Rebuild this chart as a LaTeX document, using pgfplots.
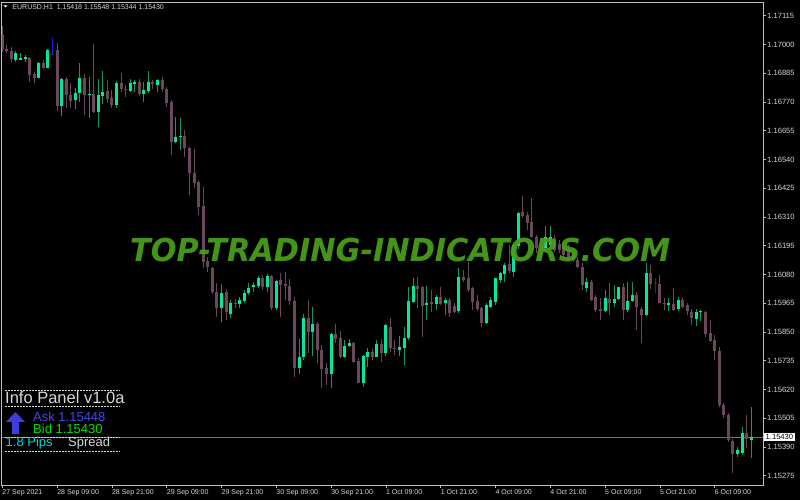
\documentclass[border=0pt]{standalone}
\usepackage{fontspec}
\setmainfont{Liberation Sans}
\newfontfamily\wmfont{DejaVu Sans}
\usepackage{graphicx}
\usepackage{pgfplots}
\usepackage{pgfplotstable}
\pgfplotsset{compat=1.18}

\definecolor{bull}{RGB}{0,232,160}
\definecolor{bullwick}{RGB}{22,150,98}
\definecolor{bear}{RGB}{106,72,92}
\definecolor{dojic}{RGB}{30,30,210}
\definecolor{framec}{RGB}{190,190,190}
\definecolor{labc}{RGB}{215,215,215}
\definecolor{bidline}{RGB}{135,100,118}
\definecolor{wmgreen}{RGB}{74,160,26}
\definecolor{askblue}{RGB}{70,70,235}
\definecolor{arrowblue}{RGB}{60,60,225}
\definecolor{bidgreen}{RGB}{0,225,0}
\definecolor{pipcyan}{RGB}{0,215,215}

% i = bar number, o h l c = open high low close
\pgfplotstableread{
i o h l c
3 1.16938 1.16975 1.16930 1.16965
4 1.16938 1.16966 1.16936 1.16946
5 1.16941 1.16958 1.16931 1.16949
8 1.16867 1.16930 1.16865 1.16927
10 1.16907 1.16981 1.16905 1.16978
13 1.16754 1.16867 1.16714 1.16862
16 1.16778 1.16826 1.16742 1.16807
17 1.16807 1.16925 1.16771 1.16867
19 1.16797 1.16871 1.16707 1.16802
21 1.16731 1.16861 1.16671 1.16798
22 1.16795 1.16894 1.16762 1.16810
25 1.16758 1.16855 1.16745 1.16845
28 1.16814 1.16861 1.16811 1.16845
29 1.16842 1.16858 1.16811 1.16851
31 1.16801 1.16851 1.16771 1.16818
32 1.16814 1.16894 1.16805 1.16849
34 1.16836 1.16861 1.16811 1.16858
38 1.16611 1.16710 1.16605 1.16631
39 1.16628 1.16706 1.16576 1.16634
48 1.15945 1.16042 1.15891 1.16005
50 1.15922 1.15978 1.15905 1.15967
52 1.15962 1.15989 1.15945 1.15978
53 1.15975 1.16018 1.15967 1.16007
54 1.16007 1.16045 1.15998 1.16027
55 1.16029 1.16051 1.16011 1.16037
56 1.16034 1.16074 1.16025 1.16065
58 1.16031 1.16082 1.16011 1.16074
60 1.15945 1.16058 1.15938 1.16055
65 1.15705 1.15821 1.15682 1.15751
66 1.15749 1.15921 1.15738 1.15905
68 1.15851 1.15949 1.15754 1.15882
72 1.15682 1.15845 1.15625 1.15842
75 1.15749 1.15817 1.15745 1.15794
76 1.15794 1.15821 1.15791 1.15807
79 1.15647 1.15758 1.15629 1.15754
80 1.15751 1.15785 1.15711 1.15771
82 1.15751 1.15818 1.15749 1.15801
84 1.15767 1.15882 1.15754 1.15878
87 1.15778 1.15834 1.15754 1.15791
88 1.15785 1.15871 1.15718 1.15825
89 1.15825 1.16029 1.15818 1.15975
90 1.15969 1.16065 1.15965 1.16034
93 1.15958 1.16034 1.15898 1.15967
95 1.15962 1.15998 1.15938 1.15991
97 1.15965 1.15985 1.15918 1.15978
100 1.15934 1.16105 1.15925 1.16069
106 1.15885 1.15965 1.15882 1.15958
107 1.15951 1.15991 1.15945 1.15978
108 1.15971 1.16067 1.15958 1.16065
109 1.16058 1.16091 1.16047 1.16085
110 1.16082 1.16125 1.16051 1.16118
112 1.16091 1.16205 1.16071 1.16198
113 1.16194 1.16331 1.16181 1.16327
119 1.16185 1.16274 1.16178 1.16231
120 1.16198 1.16274 1.16191 1.16231
128 1.16025 1.16065 1.16011 1.16051
132 1.15935 1.16018 1.15931 1.15985
134 1.15967 1.16038 1.15951 1.15982
135 1.15982 1.16031 1.15978 1.16029
137 1.15938 1.16051 1.15931 1.15975
138 1.15975 1.16051 1.15971 1.15998
141 1.15918 1.16125 1.15914 1.16085
146 1.15959 1.15985 1.15934 1.15966
148 1.15941 1.15991 1.15935 1.15978
152 1.15901 1.15941 1.15874 1.15929
153 1.15928 1.15938 1.15895 1.15933
161 1.15362 1.15391 1.15351 1.15378
162 1.15367 1.15471 1.15358 1.15447
164 1.15418 1.15548 1.15344 1.15430
}\uptab

\pgfplotstableread{
i o h l c
0 1.17038 1.17074 1.16970 1.16982
1 1.16983 1.16998 1.16967 1.16975
2 1.16975 1.16991 1.16931 1.16942
6 1.16945 1.16949 1.16851 1.16878
7 1.16882 1.16891 1.16845 1.16865
9 1.16927 1.16938 1.16901 1.16907
12 1.16978 1.17005 1.16734 1.16754
14 1.16861 1.16871 1.16745 1.16798
15 1.16798 1.16846 1.16745 1.16774
18 1.16865 1.16882 1.16718 1.16798
20 1.16802 1.17002 1.16725 1.16731
23 1.16814 1.16858 1.16765 1.16781
24 1.16785 1.16818 1.16745 1.16758
26 1.16845 1.16885 1.16811 1.16821
27 1.16822 1.16838 1.16791 1.16818
30 1.16851 1.16861 1.16794 1.16801
33 1.16848 1.16858 1.16821 1.16840
35 1.16858 1.16871 1.16811 1.16820
36 1.16821 1.16829 1.16751 1.16767
37 1.16770 1.16778 1.16558 1.16611
40 1.16634 1.16656 1.16550 1.16585
41 1.16585 1.16590 1.16398 1.16485
42 1.16485 1.16581 1.16425 1.16447
43 1.16451 1.16458 1.16318 1.16351
44 1.16355 1.16431 1.16105 1.16131
45 1.16134 1.16151 1.16091 1.16111
46 1.16105 1.16110 1.16002 1.16009
47 1.16011 1.16045 1.15911 1.15945
49 1.16011 1.16021 1.15898 1.15931
51 1.15967 1.15981 1.15945 1.15962
57 1.16065 1.16078 1.16018 1.16031
59 1.16074 1.16078 1.15938 1.15945
61 1.16058 1.16086 1.15911 1.16038
62 1.16041 1.16091 1.15978 1.16035
63 1.16035 1.16061 1.15958 1.15974
64 1.15975 1.15991 1.15671 1.15705
67 1.15905 1.15978 1.15765 1.15851
69 1.15882 1.15891 1.15725 1.15778
70 1.15778 1.15798 1.15625 1.15701
71 1.15705 1.15725 1.15638 1.15682
73 1.15842 1.15882 1.15805 1.15821
74 1.15825 1.15855 1.15745 1.15749
77 1.15807 1.15811 1.15725 1.15731
78 1.15735 1.15745 1.15645 1.15647
81 1.15771 1.15781 1.15738 1.15751
83 1.15801 1.15821 1.15731 1.15767
85 1.15871 1.15905 1.15771 1.15785
86 1.15785 1.15818 1.15758 1.15781
91 1.16034 1.16069 1.15945 1.16022
92 1.16029 1.16034 1.15831 1.15954
94 1.15970 1.16018 1.15931 1.15962
96 1.15991 1.16031 1.15958 1.15962
98 1.15978 1.15985 1.15909 1.15925
99 1.15954 1.15967 1.15927 1.15931
101 1.16069 1.16098 1.16051 1.16058
102 1.16065 1.16131 1.16011 1.16018
103 1.16025 1.16031 1.15938 1.15971
104 1.15975 1.15998 1.15935 1.15941
105 1.15945 1.15951 1.15871 1.15885
111 1.16122 1.16198 1.16085 1.16095
114 1.16329 1.16394 1.16305 1.16314
115 1.16318 1.16331 1.16258 1.16285
116 1.16289 1.16385 1.16225 1.16229
117 1.16231 1.16238 1.16165 1.16185
118 1.16198 1.16218 1.16158 1.16178
121 1.16226 1.16238 1.16171 1.16178
122 1.16202 1.16218 1.16166 1.16178
123 1.16191 1.16205 1.16151 1.16158
124 1.16178 1.16198 1.16138 1.16146
125 1.16166 1.16178 1.16130 1.16138
126 1.16138 1.16151 1.16105 1.16109
127 1.16110 1.16125 1.16018 1.16038
129 1.16051 1.16058 1.15975 1.15978
130 1.15991 1.15998 1.15931 1.15938
131 1.15942 1.15985 1.15898 1.15935
133 1.15982 1.16045 1.15918 1.15967
136 1.16029 1.16045 1.15898 1.15938
139 1.15998 1.16011 1.15858 1.15951
140 1.15942 1.15951 1.15805 1.15918
142 1.16085 1.16118 1.16021 1.16042
144 1.16042 1.16078 1.15965 1.15967
145 1.15967 1.15985 1.15938 1.15962
147 1.15962 1.16025 1.15935 1.15938
149 1.15978 1.15985 1.15945 1.15949
150 1.15958 1.15965 1.15918 1.15934
151 1.15931 1.15941 1.15878 1.15905
154 1.15931 1.15935 1.15831 1.15842
155 1.15845 1.15898 1.15811 1.15815
156 1.15818 1.15838 1.15738 1.15775
157 1.15775 1.15791 1.15551 1.15558
158 1.15558 1.15567 1.15505 1.15518
159 1.15518 1.15525 1.15411 1.15418
160 1.15415 1.15421 1.15287 1.15362
163 1.15447 1.15518 1.15385 1.15421
}\dntab

\pgfplotstableread{
i o h l c
11 1.16962 1.17025 1.16958 1.16962
143 1.16045 1.16065 1.16005 1.16045
}\djtab

\pgfplotsset{
  candle/.style n args={2}{draw=none, mark=none, forget plot,
    error bars/.cd, y dir=minus, y explicit, error mark=none,
    error bar style={draw=#1, solid, line width=#2}},
}

\begin{document}
\begin{tikzpicture}[x=1pt,y=1pt]
\useasboundingbox (0,0) rectangle (800,500);
\fill[black] (0,0) rectangle (800,500);

\begin{axis}[
  at={(1.5pt,15pt)}, anchor=south west,
  scale only axis, width=761.5pt, height=483pt,
  xmin=-0.175, xmax=166.6, ymin=1.15238, ymax=1.17170,
  axis line style={draw=framec, line width=0.8pt},
  ytick={1.15275,1.15390,1.15505,1.15620,1.15735,1.15850,1.15965,1.16080,1.16195,1.16310,1.16425,1.16540,1.16655,1.16770,1.16885,1.17000,1.17115},
  yticklabels={1.15275,1.15390,1.15505,1.15620,1.15735,1.15850,1.15965,1.16080,1.16195,1.16310,1.16425,1.16540,1.16655,1.16770,1.16885,1.17000,1.17115},
  xtick={0,12,...,156},
  xticklabels={27 Sep 2021,28 Sep 09:00,28 Sep 21:00,29 Sep 09:00,29 Sep 21:00,30 Sep 09:00,30 Sep 21:00,1 Oct 09:00,1 Oct 21:00,4 Oct 09:00,4 Oct 21:00,5 Oct 09:00,5 Oct 21:00,6 Oct 09:00},
  ytick pos=right, yticklabel pos=right, xtick pos=bottom,
  tick align=outside, major tick length=3pt,
  tick style={draw=framec, line width=0.6pt},
  /pgf/number format/assume math mode=true,
  yticklabel style={font=\fontsize{7.6}{9}\selectfont, text=labc, anchor=west, inner xsep=1pt},
  xticklabel style={font=\fontsize{7}{8}\selectfont, text=labc, anchor=north west, inner xsep=0pt, inner ysep=1.5pt},
]
% bid line
\addplot[bidline, line width=0.8pt, forget plot] coordinates {(-1,1.15430) (170,1.15430)};
% wicks
\addplot[candle={bear}{1pt}] table[x=i, y=h, y error minus expr=\thisrow{h}-\thisrow{l}] {\dntab};
\addplot[candle={bullwick}{1pt}] table[x=i, y=h, y error minus expr=\thisrow{h}-\thisrow{l}] {\uptab};
\addplot[candle={dojic}{1pt}] table[x=i, y=h, y error minus expr=\thisrow{h}-\thisrow{l}] {\djtab};
% bodies
\addplot[candle={bear}{3pt}] table[x=i, y=o, y error minus expr=\thisrow{o}-\thisrow{c}] {\dntab};
\addplot[candle={bull}{3pt}] table[x=i, y=c, y error minus expr=\thisrow{c}-\thisrow{o}] {\uptab};
\addplot[only marks, mark=-, mark size=1.5pt, dojic, forget plot] table[x=i, y=c] {\djtab};
\coordinate (bidpt) at (axis cs:166.6,1.15430);
\end{axis}

% price box at the bid
\node[fill=white, text=black, anchor=west, inner xsep=2pt, inner ysep=1.2pt,
  font=\fontsize{7.6}{9}\selectfont] at ([xshift=0.5pt]bidpt) {1.15430};

% header
\fill[white] (3.3,494.7) -- (7.7,494.7) -- (5.5,492.5) -- cycle;
\node[anchor=base west, inner sep=0, text=labc, font=\fontsize{7}{8}\selectfont]
  at (12.3,490) {EURUSD,H1\ \ 1.15418 1.15548 1.15344 1.15430};

% watermark
\node[anchor=base west, inner sep=0, text=wmgreen, opacity=0.93] at (130,238.3)
  {\resizebox{540pt}{23.4pt}{\wmfont\bfseries\itshape TOP-TRADING-INDICATORS.COM}};

% info panel
\begin{scope}[draw=labc, line width=0.7pt, dash pattern=on 2pt off 1pt]
  \draw (5,110) -- (120,110);
  \draw (5,94) -- (120,94);
  \draw (5,62.7) -- (120,62.7);
  \draw (5,49) -- (120,49);
\end{scope}
\node[anchor=base west, inner sep=0, text=labc, font=\fontsize{16.5}{18}\selectfont]
  at (5,96) {Info Panel v1.0a};
\fill[arrowblue] (15.5,88) -- (25,78) -- (19,78) -- (19,66) -- (12,66)
  -- (12,78) -- (6,78) -- cycle;
\node[anchor=base west, inner sep=0, text=askblue, font=\fontsize{13}{15}\selectfont]
  at (33,78.3) {Ask 1.15448};
\node[anchor=base west, inner sep=0, text=bidgreen, font=\fontsize{13}{15}\selectfont]
  at (33,66) {Bid 1.15430};
\node[anchor=base west, inner sep=0, text=pipcyan, font=\fontsize{13}{15}\selectfont]
  at (5.5,53.3) {1.8 Pips};
\node[anchor=base west, inner sep=0, text=labc, font=\fontsize{13}{15}\selectfont]
  at (68,53.3) {Spread};
\end{tikzpicture}
\end{document}
